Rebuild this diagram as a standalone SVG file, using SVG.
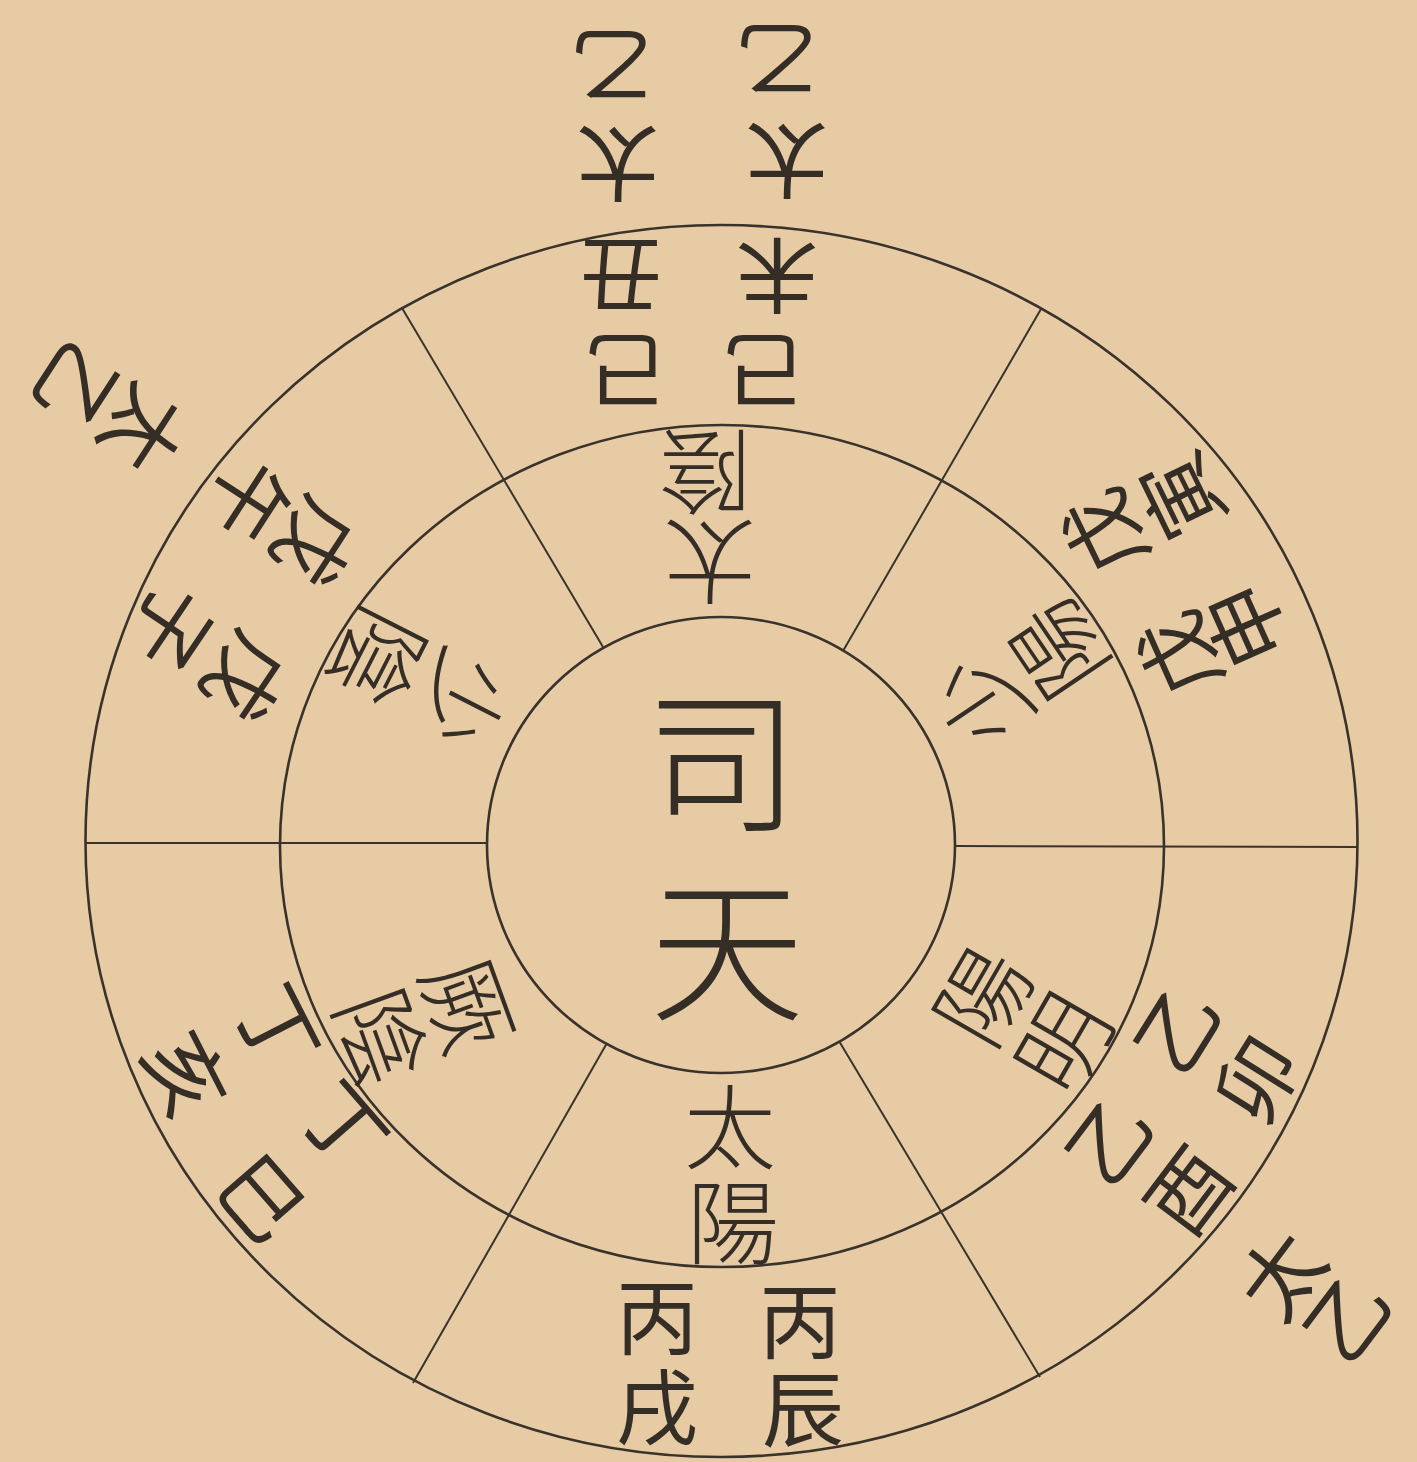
<svg xmlns="http://www.w3.org/2000/svg" width="1417" height="1462" viewBox="0 0 1417 1462">
<style>
.ring{fill:none;stroke:#3a332c;stroke-width:2.6}
.sep{stroke:#3a332c;stroke-width:2;fill:none}
text{font-family:"Noto Sans CJK TC","Noto Sans CJK SC",sans-serif;font-weight:300;fill:#352e27;text-anchor:middle;dominant-baseline:central}
.c{font-size:155px}
.i{font-size:92px}
.o{font-size:82px;font-weight:400}
</style>
<rect width="1417" height="1462" fill="#e7cba5"/>
<g id="rings">
<ellipse class="ring" cx="721.5" cy="841" rx="636" ry="616"/>
<ellipse class="ring" cx="722" cy="846" rx="442" ry="421"/>
<ellipse class="ring" cx="721" cy="845" rx="234" ry="228"/>
</g>
<g id="connectors">
<line class="sep" x1="86" y1="843" x2="487" y2="843"/>
<line class="sep" x1="955" y1="846" x2="1357" y2="847"/>
<line class="sep" x1="402" y1="308" x2="603" y2="647"/>
<line class="sep" x1="1041" y1="309" x2="843" y2="651"/>
<line class="sep" x1="413" y1="1383" x2="607" y2="1043"/>
<line class="sep" x1="1040" y1="1377" x2="839" y2="1041"/>
</g>
<g id="center">
<text class="c" x="722" y="752">司</text>
<text class="c" x="727" y="940">天</text>
</g>
<g id="sector-top">
<text class="i" x="710" y="567" transform="rotate(180 710 567)">太</text>
<text class="i" x="705" y="477" transform="rotate(180 705 477)">陰</text>
<text class="o" x="627" y="375" transform="rotate(180 627 375)">己</text>
<text class="o" x="621" y="280" transform="rotate(180 621 280)">丑</text>
<text class="o" x="618" y="168" transform="rotate(180 618 168)">太</text>
<text class="o" x="612" y="70" transform="rotate(180 612 70)">乙</text>
<text class="o" x="765" y="375" transform="rotate(180 765 375)">己</text>
<text class="o" x="777" y="280" transform="rotate(180 777 280)">未</text>
<text class="o" x="787" y="165" transform="rotate(180 787 165)">太</text>
<text class="o" x="777" y="64" transform="rotate(180 777 64)">乙</text>
</g>
<g id="sector-bottom">
<text class="i" x="730" y="1121">太</text>
<text class="i" x="733" y="1216">陽</text>
<text class="o" x="800" y="1316">丙</text>
<text class="o" x="803" y="1404">辰</text>
<text class="o" x="657" y="1312">丙</text>
<text class="o" x="657" y="1402">戌</text>
</g>
<g id="sector-upper-right">
<text class="i" x="977" y="703" transform="rotate(-124 977 703)">少</text>
<text class="i" x="1053" y="652" transform="rotate(-124 1053 652)">陽</text>
<text class="o" x="1100" y="535" transform="rotate(-116 1100 535)">戊</text>
<text class="o" x="1177" y="498" transform="rotate(-116 1177 498)">寅</text>
<text class="o" x="1175" y="657" transform="rotate(-114 1175 657)">戊</text>
<text class="o" x="1242" y="627" transform="rotate(-114 1242 627)">申</text>
</g>
<g id="sector-upper-left">
<text class="i" x="467" y="703" transform="rotate(117 467 703)">少</text>
<text class="i" x="383" y="660" transform="rotate(117 383 660)">陰</text>
<text class="o" x="320" y="545" transform="rotate(123 320 545)">戊</text>
<text class="o" x="252" y="502" transform="rotate(123 252 502)">午</text>
<text class="o" x="148" y="432" transform="rotate(123 148 432)">太</text>
<text class="o" x="80" y="388" transform="rotate(123 80 388)">乙</text>
<text class="o" x="250" y="680" transform="rotate(124 250 680)">戊</text>
<text class="o" x="175" y="630" transform="rotate(124 175 630)">子</text>
</g>
<g id="sector-lower-right">
<text class="i" x="978" y="993" transform="rotate(-60 978 993)">陽</text>
<text class="i" x="1058" y="1040" transform="rotate(-60 1058 1040)">明</text>
<text class="o" x="1173" y="1027" transform="rotate(-58 1173 1027)">乙</text>
<text class="o" x="1253" y="1077" transform="rotate(-58 1253 1077)">卯</text>
<text class="o" x="1105" y="1138" transform="rotate(-53 1105 1138)">乙</text>
<text class="o" x="1185" y="1188" transform="rotate(-53 1185 1188)">酉</text>
<text class="o" x="1277" y="1272" transform="rotate(-53 1277 1272)">太</text>
<text class="o" x="1343" y="1315" transform="rotate(-53 1343 1315)">乙</text>
</g>
<g id="sector-lower-left">
<text class="i" x="473" y="1003" transform="rotate(70 473 1003)">厥</text>
<text class="i" x="387" y="1035" transform="rotate(70 387 1035)">陰</text>
<text class="o" x="348" y="1122" transform="rotate(49 348 1122)">丁</text>
<text class="o" x="265" y="1195" transform="rotate(49 265 1195)">巳</text>
<text class="o" x="282" y="1025" transform="rotate(63 282 1025)">丁</text>
<text class="o" x="190" y="1072" transform="rotate(63 190 1072)">亥</text>
</g>
</svg>
